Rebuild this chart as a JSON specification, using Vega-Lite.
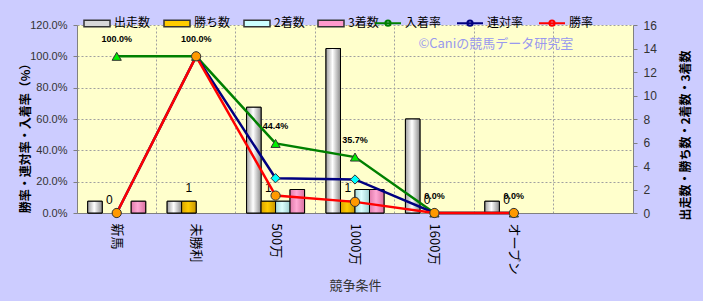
{
  "$schema": "https://vega.github.io/schema/vega-lite/v6.json",
  "width": 556,
  "height": 188,
  "autosize": "none",
  "padding": {"left": 77, "top": 25, "right": 70, "bottom": 88},
  "background": "#CCCCFF",
  "config": {
    "view": {"fill": "#FFFFCC", "stroke": null},
    "font": "Noto Sans CJK JP",
    "axis": {
      "labelColor": "#333333",
      "titleColor": "#000000",
      "domainColor": "#808080",
      "tickColor": "#808080",
      "gridColor": "#A0A0A0",
      "gridDash": [2, 2]
    }
  },
  "datasets": {
    "bars": [
      {"cond": "新馬", "series": "出走数", "n": 1},
      {"cond": "新馬", "series": "勝ち数", "n": 0},
      {"cond": "新馬", "series": "2着数", "n": 0},
      {"cond": "新馬", "series": "3着数", "n": 1},
      {"cond": "未勝利", "series": "出走数", "n": 1},
      {"cond": "未勝利", "series": "勝ち数", "n": 1},
      {"cond": "未勝利", "series": "2着数", "n": 0},
      {"cond": "未勝利", "series": "3着数", "n": 0},
      {"cond": "500万", "series": "出走数", "n": 9},
      {"cond": "500万", "series": "勝ち数", "n": 1},
      {"cond": "500万", "series": "2着数", "n": 1},
      {"cond": "500万", "series": "3着数", "n": 2},
      {"cond": "1000万", "series": "出走数", "n": 14},
      {"cond": "1000万", "series": "勝ち数", "n": 1},
      {"cond": "1000万", "series": "2着数", "n": 2},
      {"cond": "1000万", "series": "3着数", "n": 2},
      {"cond": "1600万", "series": "出走数", "n": 8},
      {"cond": "1600万", "series": "勝ち数", "n": 0},
      {"cond": "1600万", "series": "2着数", "n": 0},
      {"cond": "1600万", "series": "3着数", "n": 0},
      {"cond": "オープン", "series": "出走数", "n": 1},
      {"cond": "オープン", "series": "勝ち数", "n": 0},
      {"cond": "オープン", "series": "2着数", "n": 0},
      {"cond": "オープン", "series": "3着数", "n": 0}
    ],
    "rates": [
      {"cond": "新馬", "series": "入着率", "rate": 1.0},
      {"cond": "新馬", "series": "連対率", "rate": 0},
      {"cond": "新馬", "series": "勝率", "rate": 0},
      {"cond": "未勝利", "series": "入着率", "rate": 1.0},
      {"cond": "未勝利", "series": "連対率", "rate": 1.0},
      {"cond": "未勝利", "series": "勝率", "rate": 1.0},
      {"cond": "500万", "series": "入着率", "rate": 0.444},
      {"cond": "500万", "series": "連対率", "rate": 0.222},
      {"cond": "500万", "series": "勝率", "rate": 0.111},
      {"cond": "1000万", "series": "入着率", "rate": 0.357},
      {"cond": "1000万", "series": "連対率", "rate": 0.214},
      {"cond": "1000万", "series": "勝率", "rate": 0.071},
      {"cond": "1600万", "series": "入着率", "rate": 0},
      {"cond": "1600万", "series": "連対率", "rate": 0},
      {"cond": "1600万", "series": "勝率", "rate": 0},
      {"cond": "オープン", "series": "入着率", "rate": 0},
      {"cond": "オープン", "series": "連対率", "rate": 0},
      {"cond": "オープン", "series": "勝率", "rate": 0}
    ],
    "mark": [
      {"t": "©Caniの競馬データ研究室"}
    ]
  },
  "layer": [
    {
      "data": {"name": "bars"},
      "encoding": {
        "x": {
          "field": "cond", "type": "nominal", "sort": null,
          "scale": {"domain": ["新馬", "未勝利", "500万", "1000万", "1600万", "オープン", " "], "paddingInner": 0, "paddingOuter": 0},
          "axis": {
            "orient": "bottom", "grid": false, "ticks": false, "labelAngle": 90,
            "labelPadding": 10, "labelFontSize": 13, "labelColor": "#000000",
            "title": "競争条件", "titleFontSize": 13, "titleFontWeight": "normal",
            "titleColor": "#333333", "titleY": 72, "titleBaseline": "middle"
          }
        },
        "xOffset": {
          "field": "series", "type": "nominal", "sort": null,
          "scale": {"domain": ["出走数", "勝ち数", "2着数", "3着数"], "paddingInner": 0, "paddingOuter": 0.739}
        },
        "y": {
          "field": "n", "type": "quantitative",
          "scale": {"domain": [0, 16], "nice": false},
          "axis": {
            "orient": "right", "values": [0, 2, 4, 6, 8, 10, 12, 14, 16], "grid": false,
            "tickSize": 4, "labelPadding": 6, "labelFont": "Liberation Sans", "labelFontSize": 12,
            "title": "出走数・勝ち数・2着数・3着数", "titleFontSize": 12, "titleFontWeight": "bold",
            "titleAngle": 270, "titleX": 52, "titleY": 110, "titleBaseline": "middle", "titleAlign": "center"
          }
        }
      },
      "layer": [
        {
          "transform": [{"filter": "datum.n > 0"}],
          "mark": {"type": "bar", "stroke": "#000000", "strokeWidth": 1},
          "encoding": {
            "fill": {
              "field": "series", "type": "nominal",
              "scale": {
                "domain": ["出走数", "勝ち数", "2着数", "3着数", "入着率", "連対率", "勝率"],
                "range": ["#D8D8D8", "#FFCC00", "#CCFFFF", "#FF99CC", "#00EE00", "#00FFFF", "#FF9900"]
              },
              "legend": {
                "values": ["出走数", "勝ち数", "2着数", "3着数"],
                "orient": "none", "legendX": 6, "legendY": -16, "direction": "horizontal",
                "columns": 4, "columnPadding": 10, "title": null, "padding": 0,
                "symbolType": "M-1,-0.25H1V0.25H-1Z", "symbolSize": 676,
                "symbolStrokeColor": "#000000", "symbolStrokeWidth": 1.5, "symbolOpacity": 1,
                "labelOffset": 3, "labelFontSize": 12,
                "labelFont": "Noto Sans CJK JP", "labelColor": "#000000"
              }
            }
          }
        },
        {
          "transform": [{"filter": "datum.series === '出走数' && datum.n > 0"}],
          "mark": {
            "type": "bar", "stroke": "#000000", "strokeWidth": 1,
            "color": {"gradient": "linear", "x1": 0, "x2": 1, "y1": 0, "y2": 0,
              "stops": [{"offset": 0, "color": "#A0A0A0"}, {"offset": 0.45, "color": "#FFFFFF"}, {"offset": 1, "color": "#8C8C8C"}]}
          }
        },
        {
          "transform": [{"filter": "datum.series === '勝ち数' && datum.n > 0"}],
          "mark": {
            "type": "bar", "stroke": "#000000", "strokeWidth": 1,
            "color": {"gradient": "linear", "x1": 0, "x2": 1, "y1": 0, "y2": 0,
              "stops": [{"offset": 0, "color": "#D9A300"}, {"offset": 0.45, "color": "#FFCC00"}, {"offset": 1, "color": "#C89600"}]}
          }
        },
        {
          "transform": [{"filter": "datum.series === '2着数' && datum.n > 0"}],
          "mark": {
            "type": "bar", "stroke": "#000000", "strokeWidth": 1,
            "color": {"gradient": "linear", "x1": 0, "x2": 1, "y1": 0, "y2": 0,
              "stops": [{"offset": 0, "color": "#A6DADA"}, {"offset": 0.45, "color": "#DDFFFF"}, {"offset": 1, "color": "#9CCFCF"}]}
          }
        },
        {
          "transform": [{"filter": "datum.series === '3着数' && datum.n > 0"}],
          "mark": {
            "type": "bar", "stroke": "#000000", "strokeWidth": 1,
            "color": {"gradient": "linear", "x1": 0, "x2": 1, "y1": 0, "y2": 0,
              "stops": [{"offset": 0, "color": "#E07AAA"}, {"offset": 0.45, "color": "#FFA8D4"}, {"offset": 1, "color": "#D9709F"}]}
          }
        },
        {
          "transform": [{"filter": "datum.series === '勝ち数'"}],
          "mark": {"type": "text", "dy": -13, "fontSize": 12, "font": "Liberation Sans", "color": "#000000"},
          "encoding": {"text": {"field": "n", "type": "quantitative"}}
        }
      ]
    },
    {
      "data": {"name": "rates"},
      "encoding": {
        "x": {
          "field": "cond", "type": "nominal", "sort": null,
          "axis": {"orient": "top", "grid": true, "labels": false, "ticks": false, "domain": false, "title": null, "bandPosition": 0}
        },
        "y": {
          "field": "rate", "type": "quantitative",
          "scale": {"domain": [0, 1.2], "nice": false},
          "axis": {
            "orient": "left", "values": [0, 0.2, 0.4, 0.6, 0.8, 1.0, 1.2], "format": ".1%", "grid": true,
            "tickSize": 4, "labelPadding": 6, "labelFont": "Liberation Sans", "labelFontSize": 11,
            "title": "勝率・連対率・入着率（%）", "titleFontSize": 12, "titleFontWeight": "bold",
            "titleAngle": 270, "titleX": -52, "titleY": 110, "titleBaseline": "middle", "titleAlign": "center"
          }
        }
      },
      "layer": [
        {
          "mark": {"type": "line", "strokeWidth": 2.5},
          "encoding": {
            "color": {
              "field": "series", "type": "nominal",
              "scale": {"domain": ["入着率", "連対率", "勝率"], "range": ["#008000", "#000080", "#FF0000"]},
              "legend": {
                "orient": "none", "legendX": 297, "legendY": -16, "direction": "horizontal",
                "columns": 3, "columnPadding": 11, "title": null, "padding": 0,
                "symbolType": "M-1,0H1M0.2,0A0.2,0.2,0,1,1,-0.2,0A0.2,0.2,0,1,1,0.2,0Z",
                "symbolSize": 676, "symbolStrokeWidth": 2, "symbolOpacity": 1,
                "labelOffset": 3, "labelFontSize": 12,
                "labelFont": "Noto Sans CJK JP", "labelColor": "#000000"
              }
            }
          }
        },
        {
          "mark": {"type": "point", "filled": true, "size": 85, "stroke": "#333333", "strokeWidth": 1, "opacity": 1},
          "encoding": {
            "color": {"field": "series", "type": "nominal"},
            "shape": {"field": "series", "type": "nominal", "scale": {"domain": ["勝率", "入着率", "連対率"], "range": ["circle", "triangle-up", "diamond"]}, "legend": null},
            "fill": {"field": "series", "type": "nominal"}
          }
        },
        {
          "transform": [{"filter": "datum.series === '入着率'"}],
          "mark": {"type": "text", "dy": -17, "fontSize": 9, "fontWeight": "bold", "font": "Liberation Sans", "color": "#000000"},
          "encoding": {"text": {"field": "rate", "type": "quantitative", "format": ".1%"}}
        }
      ]
    },
    {
      "data": {"name": "mark"},
      "mark": {"type": "text", "dx": -18, "fontSize": 13, "color": "#9999EE", "font": "Noto Sans CJK JP"},
      "encoding": {
        "x": {"datum": "オープン", "type": "nominal", "axis": null},
        "y": {"datum": 1.08, "type": "quantitative", "scale": {"domain": [0, 1.2], "nice": false}, "axis": null},
        "text": {"field": "t", "type": "nominal"}
      }
    }
  ],
  "resolve": {"scale": {"y": "independent"}, "axis": {"x": "independent", "y": "independent"}}
}
